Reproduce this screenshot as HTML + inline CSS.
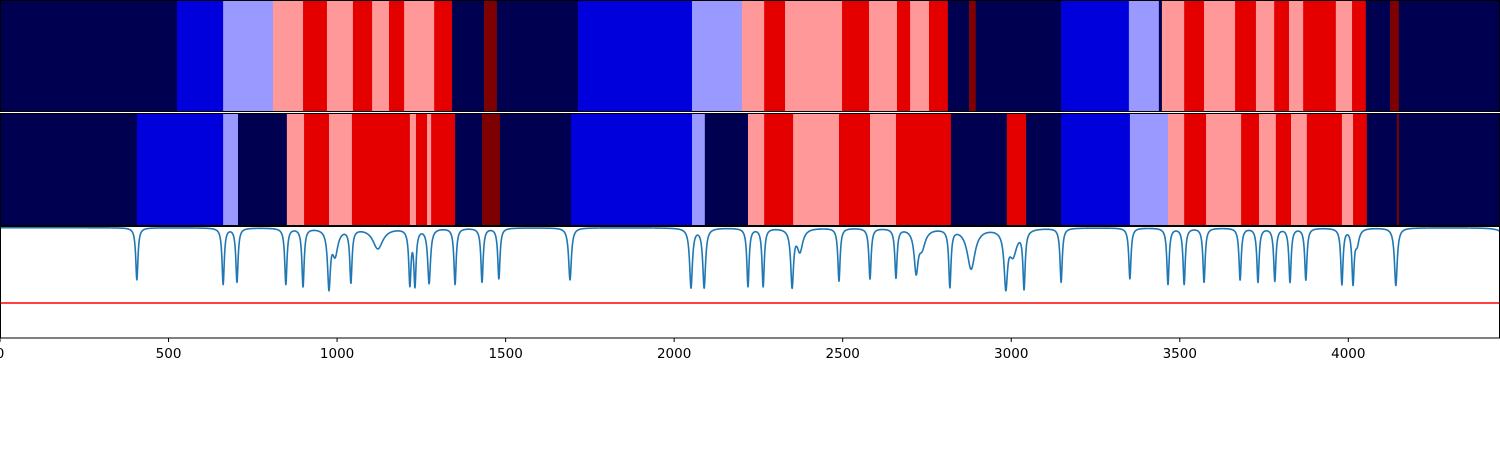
<!DOCTYPE html>
<html><head><meta charset="utf-8"><style>
html,body{margin:0;padding:0;background:#fff;}
svg{display:block;}
text{font-family:"DejaVu Sans","Liberation Sans",sans-serif;font-size:13.5px;fill:#000;}
</style></head><body>
<svg id="chart" width="1500" height="450" viewBox="0 0 1500 450" xmlns="http://www.w3.org/2000/svg">
<g id="row1"></g>
<g id="row2"></g>
<g id="line"></g>
<g id="axis"></g>
</svg>
<script>
const xMax = 4450;
const palette = ["#000050", "#0000dd", "#9999ff", "#ff9999", "#e50000", "#7f0000"];
const row1Starts = [0,525,662,810,899,970,1047,1104,1154,1199,1288,1341,1436,1474,1715,2053,2201,2267,2329,2498,2578,2661,2700,2756,2812,2875,2895,3148,3349,3438,3447,3513,3572,3664,3726,3780,3824,3866,3963,4011,4052,4124,4150];
const row1Classes = [0,1,2,3,4,3,4,3,4,3,4,0,5,0,1,2,3,4,3,4,3,4,3,4,0,5,0,1,2,0,3,4,3,4,3,4,3,4,3,4,0,5,0];
const row2Starts = [0,406,662,706,851,902,976,1044,1216,1234,1267,1279,1350,1430,1483,1694,2053,2091,2219,2267,2353,2489,2581,2658,2821,2987,3044,3148,3352,3465,3513,3578,3682,3735,3785,3830,3877,3981,4014,4055,4144,4150];
const row2Classes = [0,1,2,0,3,4,3,4,3,4,3,4,0,5,0,1,2,0,3,4,3,4,3,4,0,4,0,1,2,3,4,3,4,3,4,3,4,3,4,0,5,0];
const peakPos = [406,662,703,848,899,976,994,1041,1121,1216,1231,1273,1350,1430,1480,1691,2050,2089,2219,2264,2350,2373,2489,2581,2658,2718,2735,2818,2881,2984,3005,3038,3148,3352,3465,3513,3572,3679,3732,3782,3827,3874,3981,4014,4026,4141,4480];
const peakMin = [0.52,0.48,0.50,0.48,0.46,0.45,0.75,0.50,0.80,0.48,0.47,0.49,0.48,0.50,0.53,0.52,0.45,0.45,0.46,0.46,0.46,0.78,0.51,0.53,0.54,0.60,0.82,0.46,0.62,0.46,0.75,0.45,0.50,0.53,0.48,0.48,0.50,0.52,0.50,0.51,0.50,0.52,0.48,0.49,0.85,0.47,0.50];
const peakWidth = [4,4,4,4,4,5,10,4,18,4,4,5,4,4,4,5,5,5,4,4,5,10,4,4,4,7,12,4,14,6,14,4,4,4,4,4,4,4,4,4,4,4,4,4,7,5,8];
const baseVal = 0.985;
const redLevel = 0.313;
const ticks = [0,500,1000,1500,2000,2500,3000,3500,4000];

const NS = "http://www.w3.org/2000/svg";
const W = 1500;
const sx = v => v / xMax * W;
function mk(tag, attrs, parent){const e=document.createElementNS(NS,tag);for(const k in attrs)e.setAttribute(k,attrs[k]);parent.appendChild(e);return e;}

function band(gid, starts, classes, y0, h){
  const g = document.getElementById(gid);
  for(let i=0;i<starts.length;i++){
    const x0 = sx(starts[i]);
    const x1 = i+1<starts.length ? sx(starts[i+1]) : W;
    const r = mk("rect",{x:x0,y:y0,width:x1-x0+0.3,height:h,fill:palette[classes[i]]},g);
    
    
  }
  const f = mk("rect",{x:0.5,y:y0+0.5,width:W-1,height:h-1,fill:"none",stroke:"#000","stroke-width":1},g);
  
  
}
band("row1", row1Starts, row1Classes, 0, 112);
band("row2", row2Starts, row2Classes, 113, 113);

const pTop = 226, pBot = 338, pH = pBot - pTop;
const sy = v => pBot - v * pH;
const lg = document.getElementById("line");
let d = "";
for(let x=0;x<=xMax;x+=0.5){
  let t = baseVal;
  for(let i=0;i<peakPos.length;i++){
    const a = 1 - peakMin[i]/baseVal;
    const w = peakWidth[i];
    const dx = x - peakPos[i];
    t *= 1 - a * (w*w)/(dx*dx + w*w);
  }
  d += (x===0?"M":"L") + sx(x).toFixed(2) + "," + sy(t).toFixed(2);
}
const red = mk("line",{x1:0,x2:W,y1:sy(redLevel),y2:sy(redLevel),stroke:"#ff0000","stroke-width":1.5},lg);


const path = mk("path",{d:d,fill:"none",stroke:"#1f77b4","stroke-width":1.6,"stroke-linejoin":"round"},lg);


const pf = mk("rect",{x:0.5,y:pTop+0.5,width:W-1,height:pH-0.5,fill:"none",stroke:"#000","stroke-width":1},lg);



const ax = document.getElementById("axis");
for(const t of ticks){
  const x = sx(t);
  const tk = mk("line",{x1:x,x2:x,y1:pBot,y2:pBot+4,stroke:"#000","stroke-width":1},ax);
  
  
  const lb = mk("text",{x:x,y:pBot+20,"text-anchor":"middle"},ax);
  lb.textContent = t;
  
  
}
</script>
</body></html>
